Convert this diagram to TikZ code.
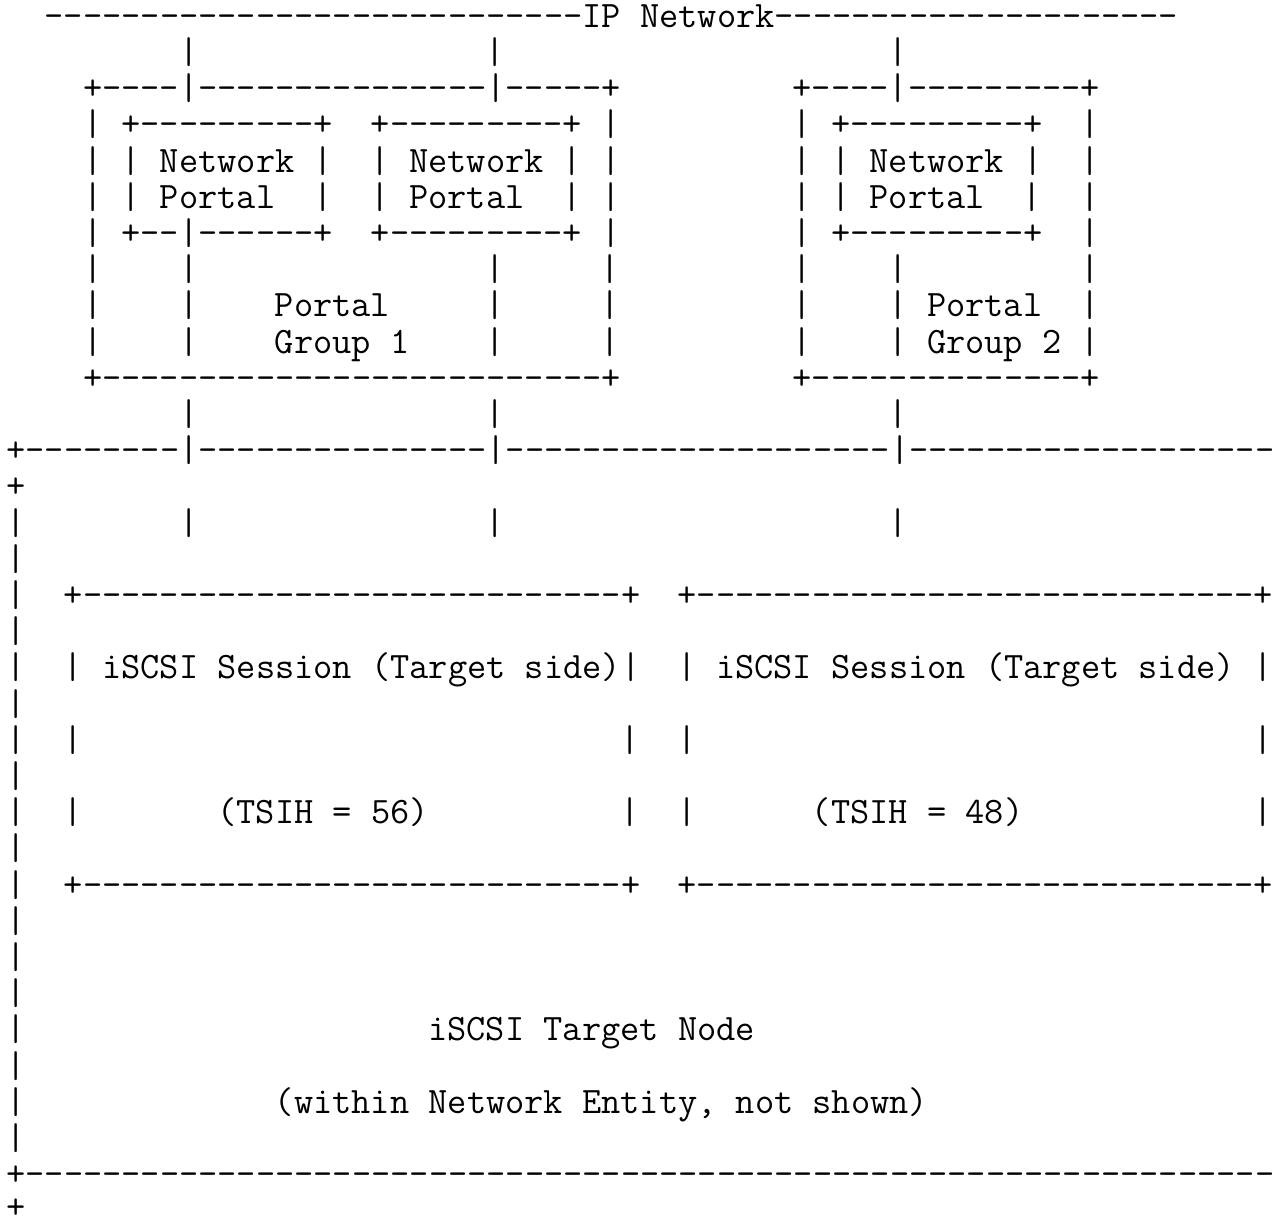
\documentclass[tikz,border=0pt]{standalone}
\usepackage{fontspec}
\newcount\dcnt
\newcommand\dsh[1]{\dcnt=#1\relax\loop\ifnum\dcnt>0 -\advance\dcnt by -1\repeat}
\tikzset{
  txt/.style={anchor=base west, inner sep=0pt, outer sep=0pt, text=black,
    text depth=0pt, font=\ttfamily\fontsize{37.3pt}{40pt}\selectfont}
}
\newcommand\seg[3]{\node[txt] (r#1c#2) at ({6.4+19.18*#2},{-27.3-36.2*#1}) {#3};}
\begin{document}
\begin{tikzpicture}[x=1pt,y=1pt]
\fill[white] (0,0) rectangle (1285,-1222);
\useasboundingbox (0,0) rectangle (1285,-1222);
% IP network
\seg{0}{2}{\dsh{28}IP Network\dsh{21}}
\seg{1}{9}{|}\seg{1}{25}{|}\seg{1}{46}{|}
% portal groups
\seg{2}{4}{+\dsh{4}|\dsh{15}|\dsh{5}+}
\seg{2}{41}{+\dsh{4}|\dsh{9}+}
\seg{3}{4}{| +\dsh{9}+}\seg{3}{19}{+\dsh{9}+ |}
\seg{3}{41}{| +\dsh{9}+}\seg{3}{56}{|}
\seg{4}{4}{| | Network |}\seg{4}{19}{| Network | |}
\seg{4}{41}{| | Network |}\seg{4}{56}{|}
\seg{5}{4}{| | Portal}\seg{5}{16}{|}\seg{5}{19}{| Portal}\seg{5}{29}{| |}
\seg{5}{41}{| | Portal}\seg{5}{53}{|}\seg{5}{56}{|}
\seg{6}{4}{| +--|\dsh{6}+}\seg{6}{19}{+\dsh{9}+ |}
\seg{6}{41}{| +\dsh{9}+}\seg{6}{56}{|}
\seg{7}{4}{|}\seg{7}{9}{|}\seg{7}{25}{|}\seg{7}{31}{|}
\seg{7}{41}{|}\seg{7}{46}{|}\seg{7}{56}{|}
\seg{8}{4}{|}\seg{8}{9}{|}\seg{8}{14}{Portal}\seg{8}{25}{|}\seg{8}{31}{|}
\seg{8}{41}{|}\seg{8}{46}{| Portal}\seg{8}{56}{|}
\seg{9}{4}{|}\seg{9}{9}{|}\seg{9}{14}{Group 1}\seg{9}{25}{|}\seg{9}{31}{|}
\seg{9}{41}{|}\seg{9}{46}{| Group 2 |}
\seg{10}{4}{+\dsh{26}+}\seg{10}{41}{+\dsh{14}+}
\seg{11}{9}{|}\seg{11}{25}{|}\seg{11}{46}{|}
% target node
\seg{12}{0}{+\dsh{8}|\dsh{15}|\dsh{20}|\dsh{19}}
\seg{13}{0}{+}
\seg{14}{0}{|}\seg{14}{9}{|}\seg{14}{25}{|}\seg{14}{46}{|}
\seg{15}{0}{|}
\seg{16}{0}{|}\seg{16}{3}{+\dsh{28}+}\seg{16}{35}{+\dsh{29}+}
\seg{17}{0}{|}
\seg{18}{0}{|}\seg{18}{3}{| iSCSI Session (Target side)|}
\seg{18}{35}{| iSCSI Session (Target side) |}
\seg{19}{0}{|}
\seg{20}{0}{|}\seg{20}{3}{|}\seg{20}{32}{|}\seg{20}{35}{|}\seg{20}{65}{|}
\seg{21}{0}{|}
\seg{22}{0}{|}\seg{22}{3}{|}\seg{22}{11}{(TSIH = 56)}\seg{22}{32}{|}
\seg{22}{35}{|}\seg{22}{42}{(TSIH = 48)}\seg{22}{65}{|}
\seg{23}{0}{|}
\seg{24}{0}{|}\seg{24}{3}{+\dsh{28}+}\seg{24}{35}{+\dsh{29}+}
\seg{25}{0}{|}
\seg{26}{0}{|}
\seg{27}{0}{|}
\seg{28}{0}{|}\seg{28}{22}{iSCSI Target Node}
\seg{29}{0}{|}
\seg{30}{0}{|}\seg{30}{14}{(within Network Entity, not shown)}
\seg{31}{0}{|}
\seg{32}{0}{+\dsh{65}}
\node[txt] (r33c0) at (6.4,-1218.3) {+};
\end{tikzpicture}
\end{document}
